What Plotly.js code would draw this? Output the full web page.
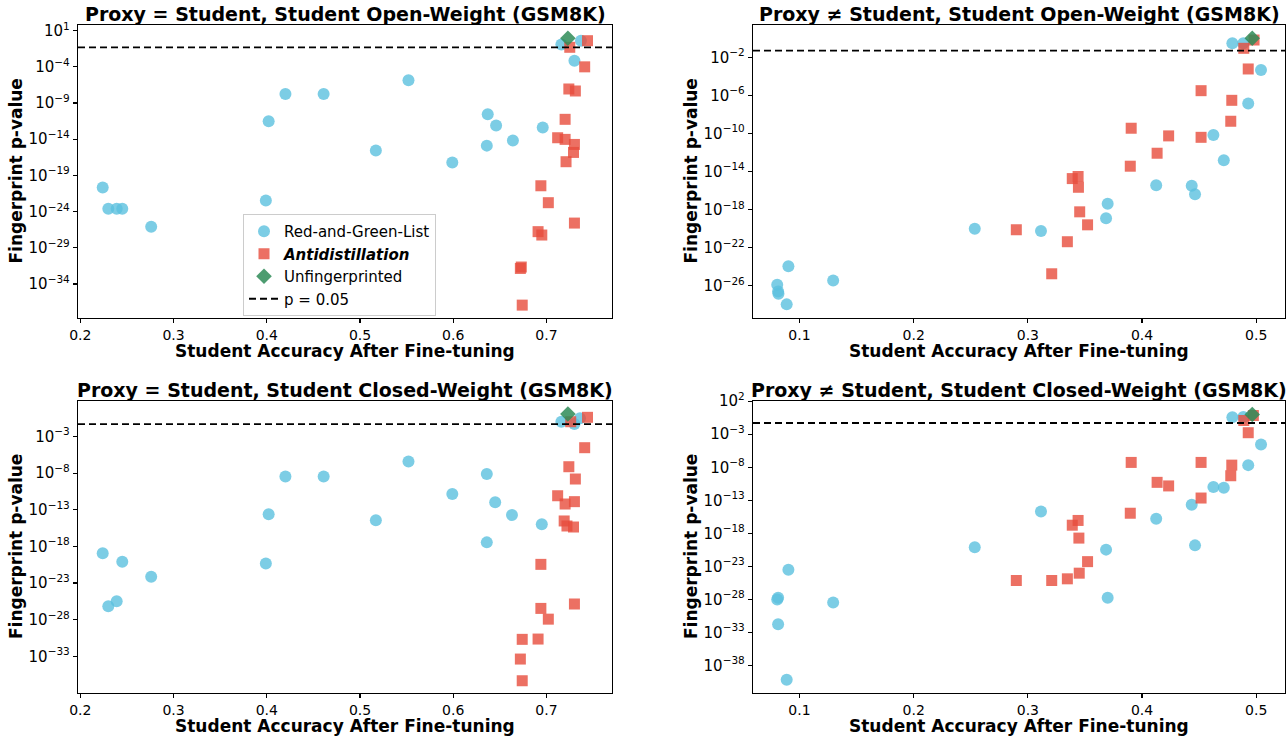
<!DOCTYPE html>
<html>
<head>
<meta charset="utf-8">
<script src="https://cdn.plot.ly/plotly-3.0.1.min.js"></script>
<style>
  html, body { margin: 0; padding: 0; background: #ffffff; }
  #chart { width: 1286px; height: 736px; }
</style>
</head>
<body>
<div id="chart"></div>
<script>
// ---------- data ----------
const METHODS = ['Red-and-Green-List', 'Antidistillation', 'Unfingerprinted'];
const P_THRESHOLD = 0.05;

// Proxy = Student, open-weight student
const sameOpen_rg_acc = [0.224, 0.230, 0.239, 0.245, 0.276, 0.399, 0.402, 0.420, 0.461, 0.517,
                         0.552, 0.599, 0.637, 0.636, 0.646, 0.664, 0.696, 0.716, 0.730, 0.737];
const sameOpen_rg_p   = [2.1e-21, 2.5e-24, 2.5e-24, 2.5e-24, 8.1e-27, 3.5e-23, 3.1e-12, 1.8e-8, 1.8e-8, 2.8e-16,
                         1.4e-6, 6.0e-18, 2.8e-11, 1.3e-15, 7.8e-13, 6.6e-15, 4.1e-13, 0.12, 7.1e-4, 0.41];
const sameOpen_ad_acc = [0.744, 0.725, 0.741, 0.724, 0.731, 0.720, 0.712, 0.720, 0.730, 0.729,
                         0.721, 0.694, 0.702, 0.730, 0.691, 0.695, 0.673, 0.672, 0.674];
const sameOpen_ad_p   = [0.41, 0.05, 1.0e-4, 8.7e-8, 4.6e-8, 5.6e-12, 1.6e-14, 9.5e-15, 1.9e-15, 1.5e-16,
                         7.8e-18, 3.7e-21, 1.7e-23, 2.6e-26, 1.7e-27, 5.8e-28, 2.2e-32, 1.4e-32, 1.2e-37];
const sameOpen_un_acc = [0.723];
const sameOpen_un_p   = [0.87];

// Proxy != Student, open-weight student
const diffOpen_rg_acc = [0.0805, 0.0813, 0.0816, 0.0888, 0.0903, 0.1295, 0.2535, 0.3115, 0.3685, 0.3699,
                         0.4124, 0.4435, 0.4464, 0.4625, 0.4716, 0.4930, 0.5042, 0.4791, 0.4887];
const diffOpen_rg_p   = [1.3e-26, 2.5e-27, 1.4e-27, 1.1e-28, 1.1e-24, 3.6e-26, 9.5e-21, 5.5e-21, 1.2e-19, 4.0e-18,
                         3.6e-16, 3.2e-16, 4.0e-17, 6.8e-11, 1.5e-13, 1.4e-7, 4.6e-4, 0.30, 0.30];
const diffOpen_ad_acc = [0.2899, 0.3209, 0.3346, 0.3389, 0.3440, 0.3443, 0.3454, 0.3523, 0.3897, 0.3905,
                         0.4132, 0.4233, 0.4517, 0.4517, 0.4777, 0.4786, 0.4930, 0.4891, 0.4981];
const diffOpen_ad_p   = [7.6e-21, 1.8e-25, 4.2e-22, 1.8e-15, 3.0e-15, 2.2e-16, 5.8e-19, 2.5e-20, 3.6e-14, 3.5e-10,
                         8.3e-13, 5.5e-11, 3.9e-11, 3.1e-6, 1.9e-9, 3.0e-7, 5.9e-4, 0.087, 0.65];
const diffOpen_un_acc = [0.4965];
const diffOpen_un_p   = [0.98];

// Proxy = Student, closed-weight student
const sameClosed_rg_acc = [0.224, 0.230, 0.239, 0.245, 0.276, 0.399, 0.402, 0.420, 0.461, 0.517,
                           0.552, 0.599, 0.636, 0.636, 0.645, 0.663, 0.695, 0.716, 0.730, 0.736];
const sameClosed_rg_p   = [1.2e-19, 6.9e-27, 3.3e-26, 8.1e-21, 7.4e-23, 4.8e-21, 2.5e-14, 3.6e-9, 3.6e-9, 3.8e-15,
                           4.0e-7, 1.4e-11, 7.8e-9, 3.6e-18, 1.1e-12, 1.9e-14, 1.1e-15, 0.105, 0.051, 0.31];
const sameClosed_ad_acc = [0.744, 0.726, 0.741, 0.724, 0.731, 0.712, 0.720, 0.730, 0.719, 0.722,
                           0.729, 0.694, 0.730, 0.694, 0.702, 0.674, 0.691, 0.672, 0.674];
const sameClosed_ad_p   = [0.42, 0.105, 3.0e-5, 7.6e-8, 1.6e-9, 8.3e-12, 6.2e-13, 1.3e-12, 3.0e-15, 6.2e-16,
                           4.5e-16, 3.6e-21, 1.4e-26, 3.5e-27, 1.2e-28, 2.1e-31, 2.3e-31, 4.3e-34, 4.7e-37];
const sameClosed_un_acc = [0.723];
const sameClosed_un_p   = [1.2];

// Proxy != Student, closed-weight student
const diffClosed_rg_acc = [0.0805, 0.0813, 0.0813, 0.0888, 0.0903, 0.1295, 0.2535, 0.3115, 0.3685, 0.3699,
                           0.4124, 0.4435, 0.4464, 0.4625, 0.4716, 0.4930, 0.5042, 0.4791, 0.4887];
const diffClosed_rg_p   = [1.0e-28, 1.8e-28, 1.7e-32, 7.1e-41, 3.0e-24, 3.5e-29, 7.6e-21, 2.0e-15, 3.4e-21, 1.8e-28,
                           1.6e-16, 2.2e-14, 1.5e-20, 1.0e-11, 8.1e-12, 2.1e-8, 2.8e-5, 0.38, 0.40];
const diffClosed_ad_acc = [0.2899, 0.3209, 0.3346, 0.3450, 0.3523, 0.3389, 0.3440, 0.3447, 0.3897, 0.3905,
                           0.4132, 0.4233, 0.4517, 0.4517, 0.4777, 0.4786, 0.4930, 0.4891, 0.4975];
const diffClosed_ad_p   = [7.2e-26, 7.2e-26, 1.3e-25, 9.3e-25, 5.2e-23, 1.7e-17, 8.9e-17, 1.9e-19, 1.1e-15, 5.4e-8,
                           5.2e-11, 1.5e-11, 2.2e-13, 5.4e-8, 5.2e-10, 2.1e-8, 1.7e-3, 0.12, 0.68];
const diffClosed_un_acc = [0.4965];
const diffClosed_un_p   = [0.98];

// tick labels
const xTicksSame = [0.2, 0.3, 0.4, 0.5, 0.6, 0.7];
const xTicksDiff = [0.1, 0.2, 0.3, 0.4, 0.5];
const yExpSameOpen   = [1, -4, -9, -14, -19, -24, -29, -34];
const yExpDiffOpen   = [-2, -6, -10, -14, -18, -22, -26];
const yExpSameClosed = [-3, -8, -13, -18, -23, -28, -33];
const yExpDiffClosed = [2, -3, -8, -13, -18, -23, -28, -33, -38];

const panelTitles = [
  'Proxy = Student, Student Open-Weight (GSM8K)',
  'Proxy \u2260 Student, Student Open-Weight (GSM8K)',
  'Proxy = Student, Student Closed-Weight (GSM8K)',
  'Proxy \u2260 Student, Student Closed-Weight (GSM8K)'
];
const xLabel = 'Student Accuracy After Fine-tuning';
const yLabel = 'Fingerprint p-value';

// ---------- styling ----------
const FONT = 'DejaVu Sans, sans-serif';
const W = 1286, H = 736;
const COLORS = { rg: '#5bc0de', ad: '#e74c3c', un: '#2e8b57' };

// plot boxes in pixels: [left, right, top, bottom]
const boxes = [
  [78, 612, 25, 318],
  [753, 1285, 25, 318],
  [78, 612, 401, 693],
  [753, 1285, 401, 693]
];
const xRanges = [[0.1975, 0.7703], [0.0593, 0.5252], [0.1975, 0.7703], [0.0593, 0.5252]];
const yRanges = [[-38.7, 1.78], [-29.39, 1.39], [-38.0, 1.85], [-42.17, 2.03]];

const panels = [
  { rg: [sameOpen_rg_acc, sameOpen_rg_p], ad: [sameOpen_ad_acc, sameOpen_ad_p], un: [sameOpen_un_acc, sameOpen_un_p], xt: xTicksSame, ye: yExpSameOpen },
  { rg: [diffOpen_rg_acc, diffOpen_rg_p], ad: [diffOpen_ad_acc, diffOpen_ad_p], un: [diffOpen_un_acc, diffOpen_un_p], xt: xTicksDiff, ye: yExpDiffOpen },
  { rg: [sameClosed_rg_acc, sameClosed_rg_p], ad: [sameClosed_ad_acc, sameClosed_ad_p], un: [sameClosed_un_acc, sameClosed_un_p], xt: xTicksSame, ye: yExpSameClosed },
  { rg: [diffClosed_rg_acc, diffClosed_rg_p], ad: [diffClosed_ad_acc, diffClosed_ad_p], un: [diffClosed_un_acc, diffClosed_un_p], xt: xTicksDiff, ye: yExpDiffClosed }
];

const expLabel = e => '10<sup>' + (e < 0 ? '\u2212' + (-e) : String(e)) + '</sup>';

const traces = [];
const layout = {
  width: W, height: H,
  margin: { l: 0, r: 0, t: 0, b: 0, autoexpand: false },
  paper_bgcolor: '#ffffff',
  plot_bgcolor: '#ffffff',
  font: { family: FONT, color: '#000000' },
  showlegend: true,
  legend: {
    x: 243 / W, y: 1 - 214 / H, xanchor: 'left', yanchor: 'top',
    bgcolor: 'rgba(255,255,255,0.85)', bordercolor: '#cccccc', borderwidth: 1,
    font: { family: FONT, size: 15, color: '#000000' },
    tracegroupgap: 0
  },
  hovermode: false,
  annotations: []
};

panels.forEach((p, i) => {
  const n = i + 1;
  const xa = 'x' + (n === 1 ? '' : n), ya = 'y' + (n === 1 ? '' : n);
  const [l, r, t, b] = boxes[i];
  const first = i === 0;

  layout['xaxis' + (n === 1 ? '' : n)] = {
    domain: [l / W, r / W], range: xRanges[i], anchor: ya,
    tickvals: p.xt, ticktext: p.xt.map(v => v.toFixed(1)),
    showgrid: false, zeroline: false, showline: true, mirror: true,
    linecolor: '#000000', linewidth: 1.2,
    ticks: 'outside', ticklen: 4, tickwidth: 1.2, tickcolor: '#000000',
    tickfont: { family: FONT, size: 14, color: '#000000' }, fixedrange: true
  };
  layout['yaxis' + (n === 1 ? '' : n)] = {
    domain: [1 - b / H, 1 - t / H], range: yRanges[i], type: 'log', anchor: xa,
    tickvals: p.ye.map(e => Math.pow(10, e)), ticktext: p.ye.map(expLabel),
    showgrid: false, zeroline: false, showline: true, mirror: true,
    linecolor: '#000000', linewidth: 1.2,
    ticks: 'outside', ticklen: 4, tickwidth: 1.2, tickcolor: '#000000',
    tickfont: { family: FONT, size: 15, color: '#000000' }, fixedrange: true
  };

  traces.push({
    type: 'scatter', mode: 'markers', name: METHODS[0], xaxis: xa, yaxis: ya,
    x: p.rg[0], y: p.rg[1], showlegend: first, legendgroup: 'rg',
    marker: { symbol: 'circle', size: 12, color: COLORS.rg, opacity: 0.8, line: { width: 0 } }
  });
  traces.push({
    type: 'scatter', mode: 'markers', name: '<b><i>' + METHODS[1] + '</i></b>', xaxis: xa, yaxis: ya,
    x: p.ad[0], y: p.ad[1], showlegend: first, legendgroup: 'ad',
    marker: { symbol: 'square', size: 11, color: COLORS.ad, opacity: 0.8, line: { width: 0 } }
  });
  traces.push({
    type: 'scatter', mode: 'markers', name: METHODS[2], xaxis: xa, yaxis: ya,
    x: p.un[0], y: p.un[1], showlegend: first, legendgroup: 'un',
    marker: { symbol: 'diamond', size: 12, color: COLORS.un, opacity: 0.85, line: { width: 0 } }
  });
  traces.push({
    type: 'scatter', mode: 'lines', name: 'p = ' + P_THRESHOLD, xaxis: xa, yaxis: ya,
    x: xRanges[i], y: [P_THRESHOLD, P_THRESHOLD], showlegend: first, legendgroup: 'thr',
    line: { color: '#000000', width: 1.8, dash: '7px,4px' }
  });

  const cx = (l + r) / 2 / W;
  layout.annotations.push({
    text: '<b>' + panelTitles[i] + '</b>', xref: 'paper', yref: 'paper',
    x: cx, y: 1 - (t - 11) / H, xanchor: 'center', yanchor: 'middle', showarrow: false,
    font: { family: FONT, size: 19, color: '#000000' }
  });
  layout.annotations.push({
    text: '<b>' + xLabel + '</b>', xref: 'paper', yref: 'paper',
    x: cx, y: 1 - (b + 33) / H, xanchor: 'center', yanchor: 'middle', showarrow: false,
    font: { family: FONT, size: 17, color: '#000000' }
  });
  layout.annotations.push({
    text: '<b>' + yLabel + '</b>', xref: 'paper', yref: 'paper',
    x: (l - 62) / W, y: 1 - (t + b) / 2 / H, xanchor: 'center', yanchor: 'middle', showarrow: false,
    textangle: -90, font: { family: FONT, size: 17, color: '#000000' }
  });
});

Plotly.newPlot('chart', traces, layout, { displayModeBar: false, staticPlot: true });
</script>
</body>
</html>
